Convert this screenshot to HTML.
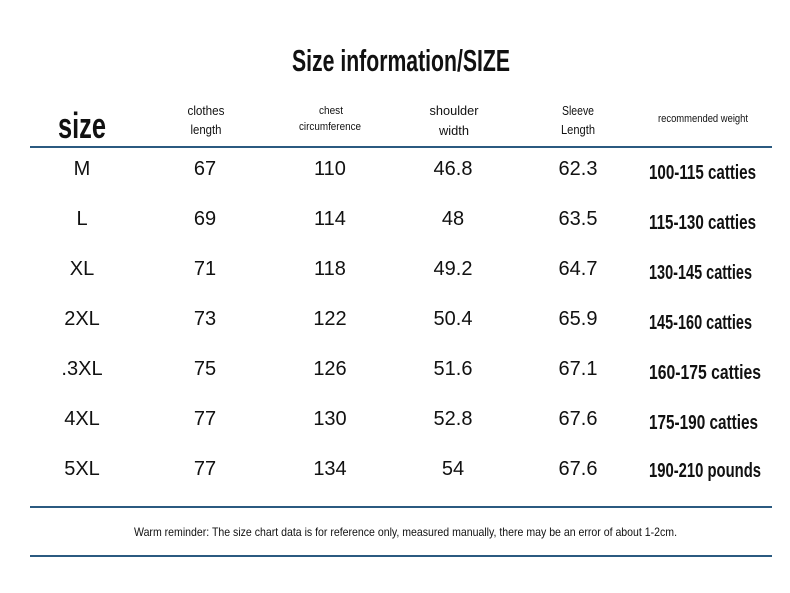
<!DOCTYPE html>
<html><head><meta charset="utf-8"><style>
html,body{margin:0;padding:0;background:#fff;}
svg{display:block;font-family:"Liberation Sans",sans-serif;}
</style></head><body>
<svg width="790" height="593" viewBox="0 0 790 593" xmlns="http://www.w3.org/2000/svg">
<rect width="790" height="593" fill="#fff"/>
<text x="292" y="71" font-size="31" font-weight="bold" fill="#111" textLength="218" lengthAdjust="spacingAndGlyphs">Size information/SIZE</text>
<text x="58" y="138" font-size="36" font-weight="bold" fill="#111" textLength="48" lengthAdjust="spacingAndGlyphs">size</text>
<g font-size="13" fill="#111" text-anchor="middle">
<text x="206" y="115" textLength="37" lengthAdjust="spacingAndGlyphs">clothes</text>
<text x="206" y="134" textLength="31" lengthAdjust="spacingAndGlyphs">length</text>
<text x="454" y="115" textLength="49" lengthAdjust="spacingAndGlyphs">shoulder</text>
<text x="454" y="135" textLength="30" lengthAdjust="spacingAndGlyphs">width</text>
<text x="578" y="115" textLength="32" lengthAdjust="spacingAndGlyphs">Sleeve</text>
<text x="578" y="134" textLength="34" lengthAdjust="spacingAndGlyphs">Length</text>
</g>
<g font-size="11" fill="#111" text-anchor="middle">
<text x="331" y="114" textLength="24" lengthAdjust="spacingAndGlyphs">chest</text>
<text x="330" y="130" textLength="62" lengthAdjust="spacingAndGlyphs">circumference</text>
<text x="703" y="122" textLength="90" lengthAdjust="spacingAndGlyphs">recommended weight</text>
</g>
<rect x="30" y="146" width="742" height="2" fill="#2b5a80"/>
<g font-size="20" fill="#111" text-anchor="middle">
<text x="82" y="175">M</text><text x="205" y="175">67</text><text x="330" y="175">110</text><text x="453" y="175">46.8</text><text x="578" y="175">62.3</text>
<text x="82" y="225">L</text><text x="205" y="225">69</text><text x="330" y="225">114</text><text x="453" y="225">48</text><text x="578" y="225">63.5</text>
<text x="82" y="275">XL</text><text x="205" y="275">71</text><text x="330" y="275">118</text><text x="453" y="275">49.2</text><text x="578" y="275">64.7</text>
<text x="82" y="325">2XL</text><text x="205" y="325">73</text><text x="330" y="325">122</text><text x="453" y="325">50.4</text><text x="578" y="325">65.9</text>
<text x="82" y="375">.3XL</text><text x="205" y="375">75</text><text x="330" y="375">126</text><text x="453" y="375">51.6</text><text x="578" y="375">67.1</text>
<text x="82" y="425">4XL</text><text x="205" y="425">77</text><text x="330" y="425">130</text><text x="453" y="425">52.8</text><text x="578" y="425">67.6</text>
<text x="82" y="475">5XL</text><text x="205" y="475">77</text><text x="330" y="475">134</text><text x="453" y="475">54</text><text x="578" y="475">67.6</text>
</g>
<g font-size="20" fill="#111" font-weight="bold">
<text x="649" y="179" textLength="107" lengthAdjust="spacingAndGlyphs">100-115 catties</text>
<text x="649" y="229" textLength="107" lengthAdjust="spacingAndGlyphs">115-130 catties</text>
<text x="649" y="279" textLength="103" lengthAdjust="spacingAndGlyphs">130-145 catties</text>
<text x="649" y="329" textLength="103" lengthAdjust="spacingAndGlyphs">145-160 catties</text>
<text x="649" y="379" textLength="112" lengthAdjust="spacingAndGlyphs">160-175 catties</text>
<text x="649" y="429" textLength="109" lengthAdjust="spacingAndGlyphs">175-190 catties</text>
<text x="649" y="477" textLength="112" lengthAdjust="spacingAndGlyphs">190-210 pounds</text>
</g>
<rect x="30" y="506" width="742" height="2" fill="#2b5a80"/>
<text x="134" y="536" font-size="12" fill="#111" textLength="543" lengthAdjust="spacingAndGlyphs">Warm reminder: The size chart data is for reference only, measured manually, there may be an error of about 1-2cm.</text>
<rect x="30" y="555" width="742" height="2" fill="#2b5a80"/>
</svg>
</body></html>
